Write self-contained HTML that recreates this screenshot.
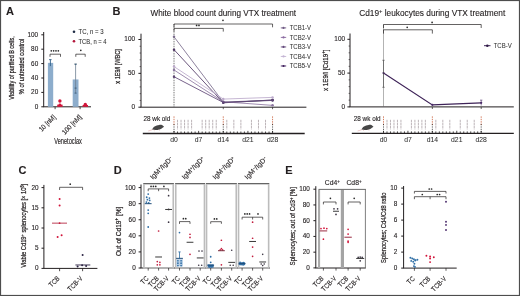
<!DOCTYPE html>
<html><head><meta charset="utf-8"><style>
html,body{margin:0;padding:0;background:#fff;}
svg{display:block;filter:blur(0.3px);}
text{font-family:"Liberation Sans", sans-serif;}
</style></head><body>
<svg width="520" height="296" viewBox="0 0 520 296">
<rect x="0" y="0" width="520" height="296" fill="#fff"/>
<rect x="0.50" y="0.50" width="519.00" height="295.00" fill="none" stroke="#4d4d4d" stroke-width="1.2"/>
<text x="6.00" y="15.30" font-size="11" fill="#231f20" stroke="#231f20" stroke-width="0.12" font-weight="bold" >A</text>
<text x="112.50" y="15.20" font-size="11" fill="#231f20" stroke="#231f20" stroke-width="0.12" font-weight="bold" >B</text>
<text x="18.50" y="174.00" font-size="11" fill="#231f20" stroke="#231f20" stroke-width="0.12" font-weight="bold" >C</text>
<text x="113.80" y="174.30" font-size="11" fill="#231f20" stroke="#231f20" stroke-width="0.12" font-weight="bold" >D</text>
<text x="285.20" y="174.00" font-size="11" fill="#231f20" stroke="#231f20" stroke-width="0.12" font-weight="bold" >E</text>
<line x1="43.70" y1="32.00" x2="43.70" y2="106.80" stroke="#231f20" stroke-width="1.0"/>
<line x1="41.30" y1="106.80" x2="43.70" y2="106.80" stroke="#231f20" stroke-width="1.0"/>
<text x="38.20" y="108.72" font-size="6.4" fill="#231f20" stroke="#231f20" stroke-width="0.12" text-anchor="end" >0</text>
<line x1="41.30" y1="92.40" x2="43.70" y2="92.40" stroke="#231f20" stroke-width="1.0"/>
<text x="38.20" y="94.32" font-size="6.4" fill="#231f20" stroke="#231f20" stroke-width="0.12" text-anchor="end" >20</text>
<line x1="41.30" y1="78.00" x2="43.70" y2="78.00" stroke="#231f20" stroke-width="1.0"/>
<text x="38.20" y="79.92" font-size="6.4" fill="#231f20" stroke="#231f20" stroke-width="0.12" text-anchor="end" >40</text>
<line x1="41.30" y1="63.60" x2="43.70" y2="63.60" stroke="#231f20" stroke-width="1.0"/>
<text x="38.20" y="65.52" font-size="6.4" fill="#231f20" stroke="#231f20" stroke-width="0.12" text-anchor="end" >60</text>
<line x1="41.30" y1="49.20" x2="43.70" y2="49.20" stroke="#231f20" stroke-width="1.0"/>
<text x="38.20" y="51.12" font-size="6.4" fill="#231f20" stroke="#231f20" stroke-width="0.12" text-anchor="end" >80</text>
<line x1="41.30" y1="34.80" x2="43.70" y2="34.80" stroke="#231f20" stroke-width="1.0"/>
<text x="38.20" y="36.72" font-size="6.4" fill="#231f20" stroke="#231f20" stroke-width="0.12" text-anchor="end" >100</text>
<line x1="43.20" y1="106.80" x2="91.00" y2="106.80" stroke="#231f20" stroke-width="1.0"/>
<line x1="55.10" y1="106.80" x2="55.10" y2="109.20" stroke="#231f20" stroke-width="0.8"/>
<line x1="80.10" y1="106.80" x2="80.10" y2="109.20" stroke="#231f20" stroke-width="0.8"/>
<rect x="47.90" y="62.88" width="5.30" height="43.92" fill="#8dadcc"/>
<rect x="72.70" y="79.44" width="5.80" height="27.36" fill="#8dadcc"/>
<rect x="57.20" y="104.64" width="5.40" height="2.16" fill="#d2143a"/>
<rect x="82.60" y="105.00" width="5.40" height="1.80" fill="#d2143a"/>
<line x1="50.40" y1="59.64" x2="50.40" y2="66.12" stroke="#2f5f88" stroke-width="0.9"/>
<line x1="49.10" y1="59.64" x2="51.60" y2="59.64" stroke="#2f5f88" stroke-width="0.9"/>
<line x1="75.60" y1="63.96" x2="75.60" y2="93.12" stroke="#6d7f90" stroke-width="0.8"/>
<line x1="74.40" y1="63.96" x2="76.80" y2="63.96" stroke="#6d7f90" stroke-width="0.8"/>
<line x1="74.60" y1="64.32" x2="76.60" y2="64.32" stroke="#2f5070" stroke-width="0.8"/>
<line x1="74.60" y1="88.08" x2="76.60" y2="88.08" stroke="#2f5070" stroke-width="0.8"/>
<line x1="74.60" y1="93.12" x2="76.60" y2="93.12" stroke="#2f5070" stroke-width="0.8"/>
<circle cx="59.90" cy="101.04" r="1.7" fill="#d2143a"/>
<circle cx="59.90" cy="105.00" r="1.4" fill="#d2143a"/>
<circle cx="85.30" cy="104.50" r="1.7" fill="#d2143a"/>
<circle cx="74.00" cy="31.80" r="1.3" fill="#1d2b44"/>
<text x="78.50" y="34.20" font-size="6.6" fill="#2e2e2e" stroke="#2e2e2e" stroke-width="0.06" textLength="25.0" lengthAdjust="spacingAndGlyphs" >TC, n = 3</text>
<circle cx="74.00" cy="41.20" r="1.3" fill="#b3173b"/>
<text x="78.50" y="43.60" font-size="6.6" fill="#2e2e2e" stroke="#2e2e2e" stroke-width="0.06" textLength="28.0" lengthAdjust="spacingAndGlyphs" >TCB, n = 4</text>
<circle cx="51.27" cy="50.80" r="0.85" fill="#2a2a2a"/>
<circle cx="53.62" cy="50.80" r="0.85" fill="#2a2a2a"/>
<circle cx="55.98" cy="50.80" r="0.85" fill="#2a2a2a"/>
<circle cx="58.33" cy="50.80" r="0.85" fill="#2a2a2a"/>
<polyline points="50.00,56.80 50.00,54.20 60.50,54.20 60.50,56.80" fill="none" stroke="#231f20" stroke-width="0.7" stroke-linejoin="miter"/>
<circle cx="80.80" cy="50.30" r="0.85" fill="#2a2a2a"/>
<polyline points="75.80,56.80 75.80,54.20 85.20,54.20 85.20,56.80" fill="none" stroke="#231f20" stroke-width="0.7" stroke-linejoin="miter"/>
<text transform="translate(13.60,67.90) rotate(-90)" font-size="7.8" fill="#231f20" stroke="#231f20" stroke-width="0.25" text-anchor="middle" textLength="63.5" lengthAdjust="spacingAndGlyphs" >Viability of purified B cells,</text>
<text transform="translate(23.60,66.40) rotate(-90)" font-size="7.8" fill="#231f20" stroke="#231f20" stroke-width="0.25" text-anchor="middle" textLength="55.5" lengthAdjust="spacingAndGlyphs" >% of untreated control</text>
<text transform="translate(56.20,117.60) rotate(-45)" font-size="7.0" fill="#231f20" stroke="#231f20" stroke-width="0.12" text-anchor="end" textLength="20.5" lengthAdjust="spacingAndGlyphs" >10 [nM]</text>
<text transform="translate(82.10,117.60) rotate(-45)" font-size="7.0" fill="#231f20" stroke="#231f20" stroke-width="0.12" text-anchor="end" textLength="24.6" lengthAdjust="spacingAndGlyphs" >100 [nM]</text>
<text x="68.05" y="143.60" font-size="8.2" fill="#231f20" text-anchor="middle" textLength="27.6" lengthAdjust="spacingAndGlyphs" stroke="#231f20" stroke-width="0.15">Venetoclax</text>
<text x="150.50" y="16.30" font-size="8.6" fill="#231f20" stroke="#231f20" stroke-width="0.12" textLength="145.5" lengthAdjust="spacingAndGlyphs" >White blood count during VTX treatment</text>
<line x1="141.00" y1="33.70" x2="141.00" y2="107.20" stroke="#231f20" stroke-width="1.0"/>
<line x1="138.40" y1="107.20" x2="141.00" y2="107.20" stroke="#231f20" stroke-width="1.0"/>
<text x="135.00" y="109.12" font-size="6.4" fill="#231f20" stroke="#231f20" stroke-width="0.12" text-anchor="end" >0</text>
<line x1="138.40" y1="73.35" x2="141.00" y2="73.35" stroke="#231f20" stroke-width="1.0"/>
<text x="135.00" y="75.27" font-size="6.4" fill="#231f20" stroke="#231f20" stroke-width="0.12" text-anchor="end" >50</text>
<line x1="138.40" y1="39.50" x2="141.00" y2="39.50" stroke="#231f20" stroke-width="1.0"/>
<text x="135.00" y="41.42" font-size="6.4" fill="#231f20" stroke="#231f20" stroke-width="0.12" text-anchor="end" >100</text>
<line x1="139.60" y1="100.43" x2="141.00" y2="100.43" stroke="#231f20" stroke-width="0.6"/>
<line x1="139.60" y1="93.66" x2="141.00" y2="93.66" stroke="#231f20" stroke-width="0.6"/>
<line x1="139.60" y1="86.89" x2="141.00" y2="86.89" stroke="#231f20" stroke-width="0.6"/>
<line x1="139.60" y1="80.12" x2="141.00" y2="80.12" stroke="#231f20" stroke-width="0.6"/>
<line x1="139.60" y1="66.58" x2="141.00" y2="66.58" stroke="#231f20" stroke-width="0.6"/>
<line x1="139.60" y1="59.81" x2="141.00" y2="59.81" stroke="#231f20" stroke-width="0.6"/>
<line x1="139.60" y1="53.04" x2="141.00" y2="53.04" stroke="#231f20" stroke-width="0.6"/>
<line x1="139.60" y1="46.27" x2="141.00" y2="46.27" stroke="#231f20" stroke-width="0.6"/>
<text transform="translate(120.00,66.40) rotate(-90)" font-size="6.9" fill="#231f20" stroke="#231f20" stroke-width="0.22" text-anchor="middle" textLength="34.5" lengthAdjust="spacingAndGlyphs" >x 1E9/l [WBC]</text>
<line x1="140.60" y1="107.20" x2="306.40" y2="107.20" stroke="#231f20" stroke-width="1.0"/>
<line x1="174.00" y1="24.00" x2="174.00" y2="107.00" stroke="#2a2a2a" stroke-width="0.8" stroke-dasharray="0.8,0.9"/>
<line x1="223.28" y1="107.20" x2="223.28" y2="109.20" stroke="#231f20" stroke-width="0.7"/>
<line x1="272.56" y1="107.20" x2="272.56" y2="109.20" stroke="#231f20" stroke-width="0.7"/>
<polyline points="174.00,36.79 223.28,102.12 272.56,100.09" fill="none" stroke="#7a6c8c" stroke-width="0.85" stroke-linejoin="miter"/>
<circle cx="174.00" cy="36.79" r="1.25" fill="#7a6c8c"/>
<circle cx="223.28" cy="102.12" r="1.25" fill="#7a6c8c"/>
<circle cx="272.56" cy="100.09" r="1.25" fill="#7a6c8c"/>
<polyline points="174.00,49.66 223.28,102.80 272.56,100.02" fill="none" stroke="#4f3664" stroke-width="0.85" stroke-linejoin="miter"/>
<circle cx="174.00" cy="49.66" r="1.25" fill="#4f3664"/>
<circle cx="223.28" cy="102.80" r="1.25" fill="#4f3664"/>
<circle cx="272.56" cy="100.02" r="1.25" fill="#4f3664"/>
<polyline points="174.00,66.58 223.28,99.08 272.56,97.38" fill="none" stroke="#bcaacb" stroke-width="0.85" stroke-linejoin="miter"/>
<circle cx="174.00" cy="66.58" r="1.25" fill="#bcaacb"/>
<circle cx="223.28" cy="99.08" r="1.25" fill="#bcaacb"/>
<circle cx="272.56" cy="97.38" r="1.25" fill="#bcaacb"/>
<polyline points="174.00,69.97 223.28,101.78 272.56,105.37" fill="none" stroke="#8c76a0" stroke-width="0.85" stroke-linejoin="miter"/>
<circle cx="174.00" cy="69.97" r="1.25" fill="#8c76a0"/>
<circle cx="223.28" cy="101.78" r="1.25" fill="#8c76a0"/>
<circle cx="272.56" cy="105.37" r="1.25" fill="#8c76a0"/>
<polyline points="174.00,76.73 223.28,102.46 272.56,100.43" fill="none" stroke="#5e4676" stroke-width="0.85" stroke-linejoin="miter"/>
<circle cx="174.00" cy="76.73" r="1.25" fill="#5e4676"/>
<circle cx="223.28" cy="102.46" r="1.25" fill="#5e4676"/>
<circle cx="272.56" cy="100.43" r="1.25" fill="#5e4676"/>
<polyline points="174.00,27.30 174.00,24.00 272.56,24.00 272.56,27.30" fill="none" stroke="#231f20" stroke-width="0.7" stroke-linejoin="miter"/>
<circle cx="222.98" cy="20.30" r="0.85" fill="#2a2a2a"/>
<polyline points="174.00,31.60 174.00,28.40 223.28,28.40 223.28,31.60" fill="none" stroke="#231f20" stroke-width="0.7" stroke-linejoin="miter"/>
<circle cx="196.62" cy="25.40" r="0.85" fill="#2a2a2a"/>
<circle cx="198.97" cy="25.40" r="0.85" fill="#2a2a2a"/>
<line x1="280.80" y1="27.90" x2="286.20" y2="27.90" stroke="#6f5a84" stroke-width="0.9"/>
<circle cx="283.50" cy="27.90" r="1.1" fill="#6f5a84"/>
<text x="289.70" y="30.20" font-size="6.6" fill="#2e2e2e" stroke="#2e2e2e" stroke-width="0.04" textLength="21.4" lengthAdjust="spacingAndGlyphs" >TCB1-V</text>
<line x1="280.80" y1="37.42" x2="286.20" y2="37.42" stroke="#8a6aa0" stroke-width="0.9"/>
<circle cx="283.50" cy="37.42" r="1.1" fill="#8a6aa0"/>
<text x="289.70" y="39.72" font-size="6.6" fill="#2e2e2e" stroke="#2e2e2e" stroke-width="0.04" textLength="21.4" lengthAdjust="spacingAndGlyphs" >TCB2-V</text>
<line x1="280.80" y1="46.94" x2="286.20" y2="46.94" stroke="#634a7c" stroke-width="0.9"/>
<circle cx="283.50" cy="46.94" r="1.1" fill="#634a7c"/>
<text x="289.70" y="49.24" font-size="6.6" fill="#2e2e2e" stroke="#2e2e2e" stroke-width="0.04" textLength="21.4" lengthAdjust="spacingAndGlyphs" >TCB3-V</text>
<line x1="280.80" y1="56.46" x2="286.20" y2="56.46" stroke="#c4b4d4" stroke-width="0.9"/>
<circle cx="283.50" cy="56.46" r="1.1" fill="#c4b4d4"/>
<text x="289.70" y="58.76" font-size="6.6" fill="#2e2e2e" stroke="#2e2e2e" stroke-width="0.04" textLength="21.4" lengthAdjust="spacingAndGlyphs" >TCB4-V</text>
<line x1="280.80" y1="65.98" x2="286.20" y2="65.98" stroke="#3f1f5c" stroke-width="0.9"/>
<circle cx="283.50" cy="65.98" r="1.1" fill="#3f1f5c"/>
<text x="289.70" y="68.28" font-size="6.6" fill="#2e2e2e" stroke="#2e2e2e" stroke-width="0.04" textLength="21.4" lengthAdjust="spacingAndGlyphs" >TCB5-V</text>
<text x="359.20" y="16.30" font-size="8.6" fill="#231f20" stroke="#231f20" stroke-width="0.12" textLength="146.0" lengthAdjust="spacingAndGlyphs" >Cd19<tspan font-size="6" dy="-3.2">+</tspan><tspan dy="3.2"> leukocytes during VTX treatment</tspan></text>
<line x1="350.00" y1="33.50" x2="350.00" y2="106.90" stroke="#231f20" stroke-width="1.0"/>
<line x1="347.40" y1="106.90" x2="350.00" y2="106.90" stroke="#231f20" stroke-width="1.0"/>
<text x="345.00" y="108.82" font-size="6.4" fill="#231f20" stroke="#231f20" stroke-width="0.12" text-anchor="end" >0</text>
<line x1="347.40" y1="73.10" x2="350.00" y2="73.10" stroke="#231f20" stroke-width="1.0"/>
<text x="345.00" y="75.02" font-size="6.4" fill="#231f20" stroke="#231f20" stroke-width="0.12" text-anchor="end" >50</text>
<line x1="347.40" y1="39.30" x2="350.00" y2="39.30" stroke="#231f20" stroke-width="1.0"/>
<text x="345.00" y="41.22" font-size="6.4" fill="#231f20" stroke="#231f20" stroke-width="0.12" text-anchor="end" >100</text>
<line x1="348.60" y1="100.14" x2="350.00" y2="100.14" stroke="#231f20" stroke-width="0.6"/>
<line x1="348.60" y1="93.38" x2="350.00" y2="93.38" stroke="#231f20" stroke-width="0.6"/>
<line x1="348.60" y1="86.62" x2="350.00" y2="86.62" stroke="#231f20" stroke-width="0.6"/>
<line x1="348.60" y1="79.86" x2="350.00" y2="79.86" stroke="#231f20" stroke-width="0.6"/>
<line x1="348.60" y1="66.34" x2="350.00" y2="66.34" stroke="#231f20" stroke-width="0.6"/>
<line x1="348.60" y1="59.58" x2="350.00" y2="59.58" stroke="#231f20" stroke-width="0.6"/>
<line x1="348.60" y1="52.82" x2="350.00" y2="52.82" stroke="#231f20" stroke-width="0.6"/>
<line x1="348.60" y1="46.06" x2="350.00" y2="46.06" stroke="#231f20" stroke-width="0.6"/>
<text transform="translate(327.80,70.20) rotate(-90)" font-size="6.9" fill="#231f20" stroke="#231f20" stroke-width="0.22" text-anchor="middle" textLength="41.5" lengthAdjust="spacingAndGlyphs" >x 1E9/l [Cd19<tspan font-size="5" dy="-2.4">+</tspan><tspan dy="2.4">]</tspan></text>
<line x1="349.60" y1="106.90" x2="513.80" y2="106.90" stroke="#231f20" stroke-width="1.0"/>
<line x1="383.50" y1="24.50" x2="383.50" y2="107.00" stroke="#666" stroke-width="0.5"/>
<line x1="432.35" y1="106.90" x2="432.35" y2="109.00" stroke="#231f20" stroke-width="0.7"/>
<line x1="481.20" y1="106.90" x2="481.20" y2="109.00" stroke="#231f20" stroke-width="0.7"/>
<polyline points="383.50,73.10 432.35,104.87 481.20,102.84" fill="none" stroke="#3e2358" stroke-width="1.15" stroke-linejoin="miter"/>
<circle cx="383.50" cy="73.10" r="1.1" fill="#4a2a68"/>
<circle cx="432.35" cy="104.87" r="1.1" fill="#4a2a68"/>
<circle cx="481.20" cy="102.84" r="1.1" fill="#4a2a68"/>
<line x1="383.50" y1="60.26" x2="383.50" y2="87.30" stroke="#444" stroke-width="0.6"/>
<line x1="382.30" y1="60.26" x2="384.70" y2="60.26" stroke="#444" stroke-width="0.6"/>
<line x1="382.30" y1="87.30" x2="384.70" y2="87.30" stroke="#444" stroke-width="0.6"/>
<line x1="481.20" y1="100.14" x2="481.20" y2="105.55" stroke="#4a2a68" stroke-width="0.6"/>
<line x1="480.00" y1="100.14" x2="482.40" y2="100.14" stroke="#4a2a68" stroke-width="0.6"/>
<polyline points="383.50,28.00 383.50,24.50 481.20,24.50 481.20,28.00" fill="none" stroke="#231f20" stroke-width="0.7" stroke-linejoin="miter"/>
<circle cx="432.10" cy="22.40" r="0.85" fill="#2a2a2a"/>
<polyline points="383.50,33.60 383.50,29.80 432.35,29.80 432.35,33.60" fill="none" stroke="#231f20" stroke-width="0.7" stroke-linejoin="miter"/>
<circle cx="407.20" cy="27.30" r="0.85" fill="#2a2a2a"/>
<line x1="484.00" y1="45.70" x2="490.50" y2="45.70" stroke="#3e2358" stroke-width="1.0"/>
<circle cx="487.30" cy="45.70" r="1.25" fill="#2e1a45"/>
<text x="493.70" y="48.00" font-size="6.6" fill="#2e2e2e" stroke="#2e2e2e" stroke-width="0.04" textLength="18.0" lengthAdjust="spacingAndGlyphs" >TCB-V</text>
<text x="143.50" y="121.20" font-size="6.8" fill="#231f20" stroke="#231f20" stroke-width="0.12" textLength="26.8" lengthAdjust="spacingAndGlyphs" >28 wk old</text>
<path d="M148.20,131.0 Q150.20,130.6 152.80,129.4" fill="none" stroke="#e6b4b4" stroke-width="0.7"/>
<path d="M152.20,129.6 C152.80,127.0 155.80,125.1 159.20,124.9 C160.60,124.8 161.60,124.9 162.40,125.3 L164.10,126.7 L162.60,127.7 C160.70,129.6 156.20,130.7 152.20,129.6 Z" fill="#474747"/>
<path d="M153.70,130.1 L154.70,131.0 M158.70,129.6 L159.70,130.6" stroke="#e6b4b4" stroke-width="0.6"/>
<line x1="142.80" y1="133.50" x2="304.70" y2="133.50" stroke="#231f20" stroke-width="1.4"/>
<line x1="174.00" y1="130.90" x2="174.00" y2="133.50" stroke="#231f20" stroke-width="0.8"/>
<line x1="177.52" y1="131.50" x2="177.52" y2="133.50" stroke="#231f20" stroke-width="0.8"/>
<line x1="181.04" y1="131.50" x2="181.04" y2="133.50" stroke="#231f20" stroke-width="0.8"/>
<line x1="184.56" y1="131.50" x2="184.56" y2="133.50" stroke="#231f20" stroke-width="0.8"/>
<line x1="188.08" y1="131.50" x2="188.08" y2="133.50" stroke="#231f20" stroke-width="0.8"/>
<line x1="191.60" y1="131.50" x2="191.60" y2="133.50" stroke="#231f20" stroke-width="0.8"/>
<line x1="195.12" y1="131.50" x2="195.12" y2="133.50" stroke="#231f20" stroke-width="0.8"/>
<line x1="198.64" y1="130.90" x2="198.64" y2="133.50" stroke="#231f20" stroke-width="0.8"/>
<line x1="202.16" y1="131.50" x2="202.16" y2="133.50" stroke="#231f20" stroke-width="0.8"/>
<line x1="205.68" y1="131.50" x2="205.68" y2="133.50" stroke="#231f20" stroke-width="0.8"/>
<line x1="209.20" y1="131.50" x2="209.20" y2="133.50" stroke="#231f20" stroke-width="0.8"/>
<line x1="212.72" y1="131.50" x2="212.72" y2="133.50" stroke="#231f20" stroke-width="0.8"/>
<line x1="216.24" y1="131.50" x2="216.24" y2="133.50" stroke="#231f20" stroke-width="0.8"/>
<line x1="219.76" y1="131.50" x2="219.76" y2="133.50" stroke="#231f20" stroke-width="0.8"/>
<line x1="223.28" y1="130.90" x2="223.28" y2="133.50" stroke="#231f20" stroke-width="0.8"/>
<line x1="226.80" y1="131.50" x2="226.80" y2="133.50" stroke="#231f20" stroke-width="0.8"/>
<line x1="230.32" y1="131.50" x2="230.32" y2="133.50" stroke="#231f20" stroke-width="0.8"/>
<line x1="233.84" y1="131.50" x2="233.84" y2="133.50" stroke="#231f20" stroke-width="0.8"/>
<line x1="237.36" y1="131.50" x2="237.36" y2="133.50" stroke="#231f20" stroke-width="0.8"/>
<line x1="240.88" y1="131.50" x2="240.88" y2="133.50" stroke="#231f20" stroke-width="0.8"/>
<line x1="244.40" y1="131.50" x2="244.40" y2="133.50" stroke="#231f20" stroke-width="0.8"/>
<line x1="247.92" y1="130.90" x2="247.92" y2="133.50" stroke="#231f20" stroke-width="0.8"/>
<line x1="251.44" y1="131.50" x2="251.44" y2="133.50" stroke="#231f20" stroke-width="0.8"/>
<line x1="254.96" y1="131.50" x2="254.96" y2="133.50" stroke="#231f20" stroke-width="0.8"/>
<line x1="258.48" y1="131.50" x2="258.48" y2="133.50" stroke="#231f20" stroke-width="0.8"/>
<line x1="262.00" y1="131.50" x2="262.00" y2="133.50" stroke="#231f20" stroke-width="0.8"/>
<line x1="265.52" y1="131.50" x2="265.52" y2="133.50" stroke="#231f20" stroke-width="0.8"/>
<line x1="269.04" y1="131.50" x2="269.04" y2="133.50" stroke="#231f20" stroke-width="0.8"/>
<line x1="272.56" y1="130.90" x2="272.56" y2="133.50" stroke="#231f20" stroke-width="0.8"/>
<line x1="177.52" y1="119.80" x2="177.52" y2="129.40" stroke="#b9b1b5" stroke-width="0.95" stroke-dasharray="2.4,0.5"/>
<line x1="181.04" y1="119.80" x2="181.04" y2="129.40" stroke="#b9b1b5" stroke-width="0.95" stroke-dasharray="2.4,0.5"/>
<line x1="184.56" y1="119.80" x2="184.56" y2="129.40" stroke="#b9b1b5" stroke-width="0.95" stroke-dasharray="2.4,0.5"/>
<line x1="188.08" y1="119.80" x2="188.08" y2="129.40" stroke="#b9b1b5" stroke-width="0.95" stroke-dasharray="2.4,0.5"/>
<line x1="191.60" y1="119.80" x2="191.60" y2="129.40" stroke="#b9b1b5" stroke-width="0.95" stroke-dasharray="2.4,0.5"/>
<line x1="202.16" y1="119.80" x2="202.16" y2="129.40" stroke="#b9b1b5" stroke-width="0.95" stroke-dasharray="2.4,0.5"/>
<line x1="205.68" y1="119.80" x2="205.68" y2="129.40" stroke="#b9b1b5" stroke-width="0.95" stroke-dasharray="2.4,0.5"/>
<line x1="209.20" y1="119.80" x2="209.20" y2="129.40" stroke="#b9b1b5" stroke-width="0.95" stroke-dasharray="2.4,0.5"/>
<line x1="212.72" y1="119.80" x2="212.72" y2="129.40" stroke="#b9b1b5" stroke-width="0.95" stroke-dasharray="2.4,0.5"/>
<line x1="216.24" y1="119.80" x2="216.24" y2="129.40" stroke="#b9b1b5" stroke-width="0.95" stroke-dasharray="2.4,0.5"/>
<line x1="226.80" y1="119.80" x2="226.80" y2="129.40" stroke="#b9b1b5" stroke-width="0.95" stroke-dasharray="2.4,0.5"/>
<line x1="233.84" y1="119.80" x2="233.84" y2="129.40" stroke="#b9b1b5" stroke-width="0.95" stroke-dasharray="2.4,0.5"/>
<line x1="240.88" y1="119.80" x2="240.88" y2="129.40" stroke="#b9b1b5" stroke-width="0.95" stroke-dasharray="2.4,0.5"/>
<line x1="251.44" y1="119.80" x2="251.44" y2="129.40" stroke="#b9b1b5" stroke-width="0.95" stroke-dasharray="2.4,0.5"/>
<line x1="258.48" y1="119.80" x2="258.48" y2="129.40" stroke="#b9b1b5" stroke-width="0.95" stroke-dasharray="2.4,0.5"/>
<line x1="265.52" y1="119.80" x2="265.52" y2="129.40" stroke="#b9b1b5" stroke-width="0.95" stroke-dasharray="2.4,0.5"/>
<line x1="174.00" y1="116.40" x2="174.00" y2="126.00" stroke="#cf6d4c" stroke-width="0.9" stroke-dasharray="1.4,1.0"/>
<line x1="174.00" y1="124.20" x2="174.00" y2="132.80" stroke="#2a2a2a" stroke-width="0.9" stroke-dasharray="1.0,1.3"/>
<line x1="223.28" y1="116.40" x2="223.28" y2="126.00" stroke="#cf6d4c" stroke-width="0.9" stroke-dasharray="1.4,1.0"/>
<line x1="223.28" y1="124.20" x2="223.28" y2="132.80" stroke="#2a2a2a" stroke-width="0.9" stroke-dasharray="1.0,1.3"/>
<line x1="272.56" y1="116.40" x2="272.56" y2="126.00" stroke="#cf6d4c" stroke-width="0.9" stroke-dasharray="1.4,1.0"/>
<line x1="272.56" y1="124.20" x2="272.56" y2="132.80" stroke="#2a2a2a" stroke-width="0.9" stroke-dasharray="1.0,1.3"/>
<text x="174.00" y="142.30" font-size="6.8" fill="#2e2e2e" stroke="#2e2e2e" stroke-width="0.05" text-anchor="middle" >d0</text>
<text x="198.64" y="142.30" font-size="6.8" fill="#2e2e2e" stroke="#2e2e2e" stroke-width="0.05" text-anchor="middle" >d7</text>
<text x="223.28" y="142.30" font-size="6.8" fill="#2e2e2e" stroke="#2e2e2e" stroke-width="0.05" text-anchor="middle" >d14</text>
<text x="247.92" y="142.30" font-size="6.8" fill="#2e2e2e" stroke="#2e2e2e" stroke-width="0.05" text-anchor="middle" >d21</text>
<text x="272.56" y="142.30" font-size="6.8" fill="#2e2e2e" stroke="#2e2e2e" stroke-width="0.05" text-anchor="middle" >d28</text>
<text x="353.80" y="121.20" font-size="6.8" fill="#231f20" stroke="#231f20" stroke-width="0.12" textLength="26.8" lengthAdjust="spacingAndGlyphs" >28 wk old</text>
<path d="M357.60,131.0 Q359.60,130.6 362.20,129.4" fill="none" stroke="#e6b4b4" stroke-width="0.7"/>
<path d="M361.60,129.6 C362.20,127.0 365.20,125.1 368.60,124.9 C370.00,124.8 371.00,124.9 371.80,125.3 L373.50,126.7 L372.00,127.7 C370.10,129.6 365.60,130.7 361.60,129.6 Z" fill="#474747"/>
<path d="M363.10,130.1 L364.10,131.0 M368.10,129.6 L369.10,130.6" stroke="#e6b4b4" stroke-width="0.6"/>
<line x1="351.80" y1="133.40" x2="513.80" y2="133.40" stroke="#231f20" stroke-width="1.4"/>
<line x1="383.50" y1="130.80" x2="383.50" y2="133.40" stroke="#231f20" stroke-width="0.8"/>
<line x1="386.99" y1="131.40" x2="386.99" y2="133.40" stroke="#231f20" stroke-width="0.8"/>
<line x1="390.48" y1="131.40" x2="390.48" y2="133.40" stroke="#231f20" stroke-width="0.8"/>
<line x1="393.97" y1="131.40" x2="393.97" y2="133.40" stroke="#231f20" stroke-width="0.8"/>
<line x1="397.46" y1="131.40" x2="397.46" y2="133.40" stroke="#231f20" stroke-width="0.8"/>
<line x1="400.95" y1="131.40" x2="400.95" y2="133.40" stroke="#231f20" stroke-width="0.8"/>
<line x1="404.44" y1="131.40" x2="404.44" y2="133.40" stroke="#231f20" stroke-width="0.8"/>
<line x1="407.93" y1="130.80" x2="407.93" y2="133.40" stroke="#231f20" stroke-width="0.8"/>
<line x1="411.41" y1="131.40" x2="411.41" y2="133.40" stroke="#231f20" stroke-width="0.8"/>
<line x1="414.90" y1="131.40" x2="414.90" y2="133.40" stroke="#231f20" stroke-width="0.8"/>
<line x1="418.39" y1="131.40" x2="418.39" y2="133.40" stroke="#231f20" stroke-width="0.8"/>
<line x1="421.88" y1="131.40" x2="421.88" y2="133.40" stroke="#231f20" stroke-width="0.8"/>
<line x1="425.37" y1="131.40" x2="425.37" y2="133.40" stroke="#231f20" stroke-width="0.8"/>
<line x1="428.86" y1="131.40" x2="428.86" y2="133.40" stroke="#231f20" stroke-width="0.8"/>
<line x1="432.35" y1="130.80" x2="432.35" y2="133.40" stroke="#231f20" stroke-width="0.8"/>
<line x1="435.84" y1="131.40" x2="435.84" y2="133.40" stroke="#231f20" stroke-width="0.8"/>
<line x1="439.33" y1="131.40" x2="439.33" y2="133.40" stroke="#231f20" stroke-width="0.8"/>
<line x1="442.82" y1="131.40" x2="442.82" y2="133.40" stroke="#231f20" stroke-width="0.8"/>
<line x1="446.31" y1="131.40" x2="446.31" y2="133.40" stroke="#231f20" stroke-width="0.8"/>
<line x1="449.80" y1="131.40" x2="449.80" y2="133.40" stroke="#231f20" stroke-width="0.8"/>
<line x1="453.29" y1="131.40" x2="453.29" y2="133.40" stroke="#231f20" stroke-width="0.8"/>
<line x1="456.77" y1="130.80" x2="456.77" y2="133.40" stroke="#231f20" stroke-width="0.8"/>
<line x1="460.26" y1="131.40" x2="460.26" y2="133.40" stroke="#231f20" stroke-width="0.8"/>
<line x1="463.75" y1="131.40" x2="463.75" y2="133.40" stroke="#231f20" stroke-width="0.8"/>
<line x1="467.24" y1="131.40" x2="467.24" y2="133.40" stroke="#231f20" stroke-width="0.8"/>
<line x1="470.73" y1="131.40" x2="470.73" y2="133.40" stroke="#231f20" stroke-width="0.8"/>
<line x1="474.22" y1="131.40" x2="474.22" y2="133.40" stroke="#231f20" stroke-width="0.8"/>
<line x1="477.71" y1="131.40" x2="477.71" y2="133.40" stroke="#231f20" stroke-width="0.8"/>
<line x1="481.20" y1="130.80" x2="481.20" y2="133.40" stroke="#231f20" stroke-width="0.8"/>
<line x1="386.99" y1="119.80" x2="386.99" y2="129.40" stroke="#b9b1b5" stroke-width="0.95" stroke-dasharray="2.4,0.5"/>
<line x1="390.48" y1="119.80" x2="390.48" y2="129.40" stroke="#b9b1b5" stroke-width="0.95" stroke-dasharray="2.4,0.5"/>
<line x1="393.97" y1="119.80" x2="393.97" y2="129.40" stroke="#b9b1b5" stroke-width="0.95" stroke-dasharray="2.4,0.5"/>
<line x1="397.46" y1="119.80" x2="397.46" y2="129.40" stroke="#b9b1b5" stroke-width="0.95" stroke-dasharray="2.4,0.5"/>
<line x1="400.95" y1="119.80" x2="400.95" y2="129.40" stroke="#b9b1b5" stroke-width="0.95" stroke-dasharray="2.4,0.5"/>
<line x1="411.41" y1="119.80" x2="411.41" y2="129.40" stroke="#b9b1b5" stroke-width="0.95" stroke-dasharray="2.4,0.5"/>
<line x1="414.90" y1="119.80" x2="414.90" y2="129.40" stroke="#b9b1b5" stroke-width="0.95" stroke-dasharray="2.4,0.5"/>
<line x1="418.39" y1="119.80" x2="418.39" y2="129.40" stroke="#b9b1b5" stroke-width="0.95" stroke-dasharray="2.4,0.5"/>
<line x1="421.88" y1="119.80" x2="421.88" y2="129.40" stroke="#b9b1b5" stroke-width="0.95" stroke-dasharray="2.4,0.5"/>
<line x1="425.37" y1="119.80" x2="425.37" y2="129.40" stroke="#b9b1b5" stroke-width="0.95" stroke-dasharray="2.4,0.5"/>
<line x1="435.84" y1="119.80" x2="435.84" y2="129.40" stroke="#b9b1b5" stroke-width="0.95" stroke-dasharray="2.4,0.5"/>
<line x1="442.82" y1="119.80" x2="442.82" y2="129.40" stroke="#b9b1b5" stroke-width="0.95" stroke-dasharray="2.4,0.5"/>
<line x1="449.80" y1="119.80" x2="449.80" y2="129.40" stroke="#b9b1b5" stroke-width="0.95" stroke-dasharray="2.4,0.5"/>
<line x1="460.26" y1="119.80" x2="460.26" y2="129.40" stroke="#b9b1b5" stroke-width="0.95" stroke-dasharray="2.4,0.5"/>
<line x1="467.24" y1="119.80" x2="467.24" y2="129.40" stroke="#b9b1b5" stroke-width="0.95" stroke-dasharray="2.4,0.5"/>
<line x1="474.22" y1="119.80" x2="474.22" y2="129.40" stroke="#b9b1b5" stroke-width="0.95" stroke-dasharray="2.4,0.5"/>
<line x1="383.50" y1="116.40" x2="383.50" y2="126.00" stroke="#cf6d4c" stroke-width="0.9" stroke-dasharray="1.4,1.0"/>
<line x1="383.50" y1="124.20" x2="383.50" y2="132.80" stroke="#2a2a2a" stroke-width="0.9" stroke-dasharray="1.0,1.3"/>
<line x1="432.35" y1="116.40" x2="432.35" y2="126.00" stroke="#cf6d4c" stroke-width="0.9" stroke-dasharray="1.4,1.0"/>
<line x1="432.35" y1="124.20" x2="432.35" y2="132.80" stroke="#2a2a2a" stroke-width="0.9" stroke-dasharray="1.0,1.3"/>
<line x1="481.20" y1="116.40" x2="481.20" y2="126.00" stroke="#cf6d4c" stroke-width="0.9" stroke-dasharray="1.4,1.0"/>
<line x1="481.20" y1="124.20" x2="481.20" y2="132.80" stroke="#2a2a2a" stroke-width="0.9" stroke-dasharray="1.0,1.3"/>
<text x="383.50" y="142.30" font-size="6.8" fill="#2e2e2e" stroke="#2e2e2e" stroke-width="0.05" text-anchor="middle" >d0</text>
<text x="407.93" y="142.30" font-size="6.8" fill="#2e2e2e" stroke="#2e2e2e" stroke-width="0.05" text-anchor="middle" >d7</text>
<text x="432.35" y="142.30" font-size="6.8" fill="#2e2e2e" stroke="#2e2e2e" stroke-width="0.05" text-anchor="middle" >d14</text>
<text x="456.77" y="142.30" font-size="6.8" fill="#2e2e2e" stroke="#2e2e2e" stroke-width="0.05" text-anchor="middle" >d21</text>
<text x="481.20" y="142.30" font-size="6.8" fill="#2e2e2e" stroke="#2e2e2e" stroke-width="0.05" text-anchor="middle" >d28</text>
<line x1="43.90" y1="184.90" x2="43.90" y2="268.40" stroke="#231f20" stroke-width="1.0"/>
<line x1="41.50" y1="268.40" x2="43.90" y2="268.40" stroke="#231f20" stroke-width="1.0"/>
<text x="38.60" y="270.32" font-size="6.4" fill="#231f20" stroke="#231f20" stroke-width="0.12" text-anchor="end" >0</text>
<line x1="41.50" y1="248.20" x2="43.90" y2="248.20" stroke="#231f20" stroke-width="1.0"/>
<text x="38.60" y="250.12" font-size="6.4" fill="#231f20" stroke="#231f20" stroke-width="0.12" text-anchor="end" >5</text>
<line x1="41.50" y1="228.00" x2="43.90" y2="228.00" stroke="#231f20" stroke-width="1.0"/>
<text x="38.60" y="229.92" font-size="6.4" fill="#231f20" stroke="#231f20" stroke-width="0.12" text-anchor="end" >10</text>
<line x1="41.50" y1="207.80" x2="43.90" y2="207.80" stroke="#231f20" stroke-width="1.0"/>
<text x="38.60" y="209.72" font-size="6.4" fill="#231f20" stroke="#231f20" stroke-width="0.12" text-anchor="end" >15</text>
<line x1="41.50" y1="187.60" x2="43.90" y2="187.60" stroke="#231f20" stroke-width="1.0"/>
<text x="38.60" y="189.52" font-size="6.4" fill="#231f20" stroke="#231f20" stroke-width="0.12" text-anchor="end" >20</text>
<line x1="43.50" y1="268.40" x2="97.40" y2="268.40" stroke="#231f20" stroke-width="1.0"/>
<line x1="59.60" y1="268.40" x2="59.60" y2="271.20" stroke="#231f20" stroke-width="0.8"/>
<line x1="82.60" y1="268.40" x2="82.60" y2="271.20" stroke="#231f20" stroke-width="0.8"/>
<text transform="translate(25.80,225.80) rotate(-90)" font-size="7.0" fill="#231f20" stroke="#231f20" stroke-width="0.22" text-anchor="middle" textLength="84.0" lengthAdjust="spacingAndGlyphs" >Viable Cd19<tspan font-size="4.6" dy="-2.3">+</tspan><tspan dy="2.3"> splenocytes [× 10</tspan><tspan font-size="4.6" dy="-2.3">6</tspan><tspan dy="2.3">]</tspan></text>
<circle cx="59.60" cy="198.91" r="1.0" fill="#d2143a"/>
<circle cx="59.60" cy="205.38" r="1.0" fill="#d2143a"/>
<circle cx="57.60" cy="236.89" r="1.0" fill="#d2143a"/>
<circle cx="61.60" cy="235.27" r="1.0" fill="#d2143a"/>
<circle cx="59.60" cy="223.15" r="0.9" fill="#d2143a"/>
<line x1="52.00" y1="223.15" x2="67.00" y2="223.15" stroke="#b52a44" stroke-width="0.9"/>
<circle cx="82.60" cy="255.07" r="1.0" fill="#2c2444"/>
<circle cx="77.60" cy="266.38" r="1.0" fill="#2c2444"/>
<circle cx="82.10" cy="265.17" r="1.0" fill="#2c2444"/>
<circle cx="86.10" cy="265.98" r="1.0" fill="#2c2444"/>
<line x1="75.40" y1="264.97" x2="90.30" y2="264.97" stroke="#2c2444" stroke-width="0.9"/>
<polyline points="59.60,190.00 59.60,187.30 82.60,187.30 82.60,190.00" fill="none" stroke="#231f20" stroke-width="0.7" stroke-linejoin="miter"/>
<circle cx="70.20" cy="184.20" r="0.85" fill="#2a2a2a"/>
<text transform="translate(60.10,279.00) rotate(-45)" font-size="7.0" fill="#231f20" stroke="#231f20" stroke-width="0.12" text-anchor="end" textLength="12.04" lengthAdjust="spacingAndGlyphs" >TCB</text>
<text transform="translate(83.10,279.00) rotate(-45)" font-size="7.0" fill="#231f20" stroke="#231f20" stroke-width="0.12" text-anchor="end" textLength="18.06" lengthAdjust="spacingAndGlyphs" >TCB-V</text>
<line x1="141.00" y1="184.50" x2="141.00" y2="268.00" stroke="#231f20" stroke-width="1.0"/>
<line x1="138.60" y1="268.00" x2="141.00" y2="268.00" stroke="#231f20" stroke-width="1.0"/>
<text x="135.70" y="269.92" font-size="6.4" fill="#231f20" stroke="#231f20" stroke-width="0.12" text-anchor="end" >0</text>
<line x1="138.60" y1="251.92" x2="141.00" y2="251.92" stroke="#231f20" stroke-width="1.0"/>
<text x="135.70" y="253.84" font-size="6.4" fill="#231f20" stroke="#231f20" stroke-width="0.12" text-anchor="end" >20</text>
<line x1="138.60" y1="235.84" x2="141.00" y2="235.84" stroke="#231f20" stroke-width="1.0"/>
<text x="135.70" y="237.76" font-size="6.4" fill="#231f20" stroke="#231f20" stroke-width="0.12" text-anchor="end" >40</text>
<line x1="138.60" y1="219.76" x2="141.00" y2="219.76" stroke="#231f20" stroke-width="1.0"/>
<text x="135.70" y="221.68" font-size="6.4" fill="#231f20" stroke="#231f20" stroke-width="0.12" text-anchor="end" >60</text>
<line x1="138.60" y1="203.68" x2="141.00" y2="203.68" stroke="#231f20" stroke-width="1.0"/>
<text x="135.70" y="205.60" font-size="6.4" fill="#231f20" stroke="#231f20" stroke-width="0.12" text-anchor="end" >80</text>
<line x1="138.60" y1="187.60" x2="141.00" y2="187.60" stroke="#231f20" stroke-width="1.0"/>
<text x="135.70" y="189.52" font-size="6.4" fill="#231f20" stroke="#231f20" stroke-width="0.12" text-anchor="end" >100</text>
<line x1="140.70" y1="268.00" x2="270.00" y2="268.00" stroke="#231f20" stroke-width="1.0"/>
<text transform="translate(120.60,231.30) rotate(-90)" font-size="7.0" fill="#231f20" stroke="#231f20" stroke-width="0.22" text-anchor="middle" textLength="49.5" lengthAdjust="spacingAndGlyphs" >Out of Cd19<tspan font-size="4.6" dy="-2.3">+</tspan><tspan dy="2.3"> [%]</tspan></text>
<rect x="143.95" y="183.90" width="29.30" height="84.10" fill="none" stroke="#bcbcbc" stroke-width="1.6"/>
<line x1="143.40" y1="183.50" x2="173.80" y2="183.50" stroke="#5a5a5a" stroke-width="0.9"/>
<text transform="translate(152.70,179.80) rotate(-45)" font-size="6.9" fill="#231f20" stroke="#231f20" stroke-width="0.12" >IgM<tspan font-size="4" dy="-2">+</tspan><tspan dy="2">/IgD</tspan><tspan font-size="4" dy="-2">−</tspan></text>
<rect x="175.75" y="183.90" width="28.70" height="84.10" fill="none" stroke="#bcbcbc" stroke-width="1.6"/>
<line x1="175.20" y1="183.50" x2="205.00" y2="183.50" stroke="#5a5a5a" stroke-width="0.9"/>
<text transform="translate(184.50,179.80) rotate(-45)" font-size="6.9" fill="#231f20" stroke="#231f20" stroke-width="0.12" >IgM<tspan font-size="4" dy="-2">+</tspan><tspan dy="2">/IgD</tspan><tspan font-size="4" dy="-2">+</tspan></text>
<rect x="206.55" y="183.90" width="29.70" height="84.10" fill="none" stroke="#bcbcbc" stroke-width="1.6"/>
<line x1="206.00" y1="183.50" x2="236.80" y2="183.50" stroke="#5a5a5a" stroke-width="0.9"/>
<text transform="translate(215.30,179.80) rotate(-45)" font-size="6.9" fill="#231f20" stroke="#231f20" stroke-width="0.12" >IgM<tspan font-size="4" dy="-2">−</tspan><tspan dy="2">/IgD</tspan><tspan font-size="4" dy="-2">+</tspan></text>
<rect x="238.55" y="183.90" width="30.10" height="84.10" fill="none" stroke="#bcbcbc" stroke-width="1.6"/>
<line x1="238.00" y1="183.50" x2="269.20" y2="183.50" stroke="#5a5a5a" stroke-width="0.9"/>
<text transform="translate(247.30,179.80) rotate(-45)" font-size="6.9" fill="#231f20" stroke="#231f20" stroke-width="0.12" >IgM<tspan font-size="4" dy="-2">−</tspan><tspan dy="2">/IgD</tspan><tspan font-size="4" dy="-2">−</tspan></text>
<line x1="148.20" y1="268.00" x2="148.20" y2="270.60" stroke="#231f20" stroke-width="0.7"/>
<line x1="158.60" y1="268.00" x2="158.60" y2="270.60" stroke="#231f20" stroke-width="0.7"/>
<line x1="168.60" y1="268.00" x2="168.60" y2="270.60" stroke="#231f20" stroke-width="0.7"/>
<text transform="translate(149.00,279.00) rotate(-45)" font-size="7.0" fill="#231f20" stroke="#231f20" stroke-width="0.12" text-anchor="end" textLength="8.024659999999999" lengthAdjust="spacingAndGlyphs" >TC</text>
<text transform="translate(159.40,279.00) rotate(-45)" font-size="7.0" fill="#231f20" stroke="#231f20" stroke-width="0.12" text-anchor="end" textLength="12.04" lengthAdjust="spacingAndGlyphs" >TCB</text>
<text transform="translate(169.40,279.00) rotate(-45)" font-size="7.0" fill="#231f20" stroke="#231f20" stroke-width="0.12" text-anchor="end" textLength="18.06" lengthAdjust="spacingAndGlyphs" >TCB-V</text>
<line x1="179.50" y1="268.00" x2="179.50" y2="270.60" stroke="#231f20" stroke-width="0.7"/>
<line x1="190.00" y1="268.00" x2="190.00" y2="270.60" stroke="#231f20" stroke-width="0.7"/>
<line x1="200.20" y1="268.00" x2="200.20" y2="270.60" stroke="#231f20" stroke-width="0.7"/>
<text transform="translate(180.30,279.00) rotate(-45)" font-size="7.0" fill="#231f20" stroke="#231f20" stroke-width="0.12" text-anchor="end" textLength="8.024659999999999" lengthAdjust="spacingAndGlyphs" >TC</text>
<text transform="translate(190.80,279.00) rotate(-45)" font-size="7.0" fill="#231f20" stroke="#231f20" stroke-width="0.12" text-anchor="end" textLength="12.04" lengthAdjust="spacingAndGlyphs" >TCB</text>
<text transform="translate(201.00,279.00) rotate(-45)" font-size="7.0" fill="#231f20" stroke="#231f20" stroke-width="0.12" text-anchor="end" textLength="18.06" lengthAdjust="spacingAndGlyphs" >TCB-V</text>
<line x1="210.70" y1="268.00" x2="210.70" y2="270.60" stroke="#231f20" stroke-width="0.7"/>
<line x1="221.40" y1="268.00" x2="221.40" y2="270.60" stroke="#231f20" stroke-width="0.7"/>
<line x1="231.70" y1="268.00" x2="231.70" y2="270.60" stroke="#231f20" stroke-width="0.7"/>
<text transform="translate(211.50,279.00) rotate(-45)" font-size="7.0" fill="#231f20" stroke="#231f20" stroke-width="0.12" text-anchor="end" textLength="8.024659999999999" lengthAdjust="spacingAndGlyphs" >TC</text>
<text transform="translate(222.20,279.00) rotate(-45)" font-size="7.0" fill="#231f20" stroke="#231f20" stroke-width="0.12" text-anchor="end" textLength="12.04" lengthAdjust="spacingAndGlyphs" >TCB</text>
<text transform="translate(232.50,279.00) rotate(-45)" font-size="7.0" fill="#231f20" stroke="#231f20" stroke-width="0.12" text-anchor="end" textLength="18.06" lengthAdjust="spacingAndGlyphs" >TCB-V</text>
<line x1="242.10" y1="268.00" x2="242.10" y2="270.60" stroke="#231f20" stroke-width="0.7"/>
<line x1="252.60" y1="268.00" x2="252.60" y2="270.60" stroke="#231f20" stroke-width="0.7"/>
<line x1="262.70" y1="268.00" x2="262.70" y2="270.60" stroke="#231f20" stroke-width="0.7"/>
<text transform="translate(242.90,279.00) rotate(-45)" font-size="7.0" fill="#231f20" stroke="#231f20" stroke-width="0.12" text-anchor="end" textLength="8.024659999999999" lengthAdjust="spacingAndGlyphs" >TC</text>
<text transform="translate(253.40,279.00) rotate(-45)" font-size="7.0" fill="#231f20" stroke="#231f20" stroke-width="0.12" text-anchor="end" textLength="12.04" lengthAdjust="spacingAndGlyphs" >TCB</text>
<text transform="translate(263.50,279.00) rotate(-45)" font-size="7.0" fill="#231f20" stroke="#231f20" stroke-width="0.12" text-anchor="end" textLength="18.06" lengthAdjust="spacingAndGlyphs" >TCB-V</text>
<circle cx="148.20" cy="194.03" r="0.9" fill="#2f6ea5"/>
<circle cx="146.70" cy="197.25" r="0.9" fill="#2f6ea5"/>
<circle cx="149.40" cy="198.05" r="0.9" fill="#2f6ea5"/>
<circle cx="147.40" cy="199.66" r="0.9" fill="#2f6ea5"/>
<circle cx="149.70" cy="200.46" r="0.9" fill="#2f6ea5"/>
<circle cx="146.40" cy="202.07" r="0.9" fill="#2f6ea5"/>
<circle cx="148.70" cy="202.88" r="0.9" fill="#2f6ea5"/>
<circle cx="148.20" cy="210.11" r="0.9" fill="#2f6ea5"/>
<circle cx="148.20" cy="213.33" r="0.9" fill="#2f6ea5"/>
<circle cx="148.20" cy="227.00" r="0.9" fill="#2f6ea5"/>
<line x1="144.80" y1="203.68" x2="151.60" y2="203.68" stroke="#1f4e7a" stroke-width="1.0"/>
<circle cx="158.60" cy="231.02" r="0.85" fill="#c21e3f"/>
<circle cx="157.30" cy="261.57" r="0.85" fill="#c21e3f"/>
<circle cx="159.90" cy="262.37" r="0.85" fill="#c21e3f"/>
<circle cx="157.30" cy="264.78" r="0.85" fill="#c21e3f"/>
<circle cx="159.90" cy="264.78" r="0.85" fill="#c21e3f"/>
<line x1="155.20" y1="256.99" x2="162.00" y2="256.99" stroke="#3a3a3a" stroke-width="1.0"/>
<circle cx="168.60" cy="195.64" r="0.85" fill="#3b3442"/>
<circle cx="168.60" cy="209.47" r="0.85" fill="#3b3442"/>
<circle cx="168.60" cy="222.17" r="0.85" fill="#3b3442"/>
<line x1="165.20" y1="209.47" x2="172.00" y2="209.47" stroke="#3a3a3a" stroke-width="1.0"/>
<polyline points="148.20,191.20 148.20,188.90 168.60,188.90 168.60,191.20" fill="none" stroke="#231f20" stroke-width="0.7" stroke-linejoin="miter"/>
<line x1="158.60" y1="188.90" x2="158.60" y2="191.20" stroke="#231f20" stroke-width="0.7"/>
<circle cx="151.05" cy="186.40" r="0.85" fill="#2a2a2a"/>
<circle cx="153.40" cy="186.40" r="0.85" fill="#2a2a2a"/>
<circle cx="155.75" cy="186.40" r="0.85" fill="#2a2a2a"/>
<circle cx="163.90" cy="186.40" r="0.85" fill="#2a2a2a"/>
<rect x="176.30" y="259.16" width="6.60" height="7.24" fill="#b9d0e6"/>
<line x1="179.50" y1="251.92" x2="179.50" y2="258.35" stroke="#2f6ea5" stroke-width="0.8"/>
<line x1="178.30" y1="251.92" x2="180.70" y2="251.92" stroke="#2f6ea5" stroke-width="0.8"/>
<circle cx="179.50" cy="232.62" r="0.85" fill="#2f6ea5"/>
<circle cx="177.90" cy="260.76" r="0.85" fill="#2f6ea5"/>
<circle cx="181.10" cy="260.76" r="0.85" fill="#2f6ea5"/>
<circle cx="177.90" cy="263.18" r="0.85" fill="#2f6ea5"/>
<circle cx="181.10" cy="263.18" r="0.85" fill="#2f6ea5"/>
<circle cx="177.90" cy="265.59" r="0.85" fill="#2f6ea5"/>
<circle cx="181.10" cy="265.59" r="0.85" fill="#2f6ea5"/>
<line x1="176.10" y1="258.35" x2="182.90" y2="258.35" stroke="#1f4e7a" stroke-width="1.0"/>
<circle cx="190.00" cy="234.23" r="0.85" fill="#c21e3f"/>
<circle cx="190.00" cy="237.45" r="0.85" fill="#c21e3f"/>
<circle cx="190.00" cy="254.33" r="0.85" fill="#c21e3f"/>
<line x1="186.60" y1="242.27" x2="193.40" y2="242.27" stroke="#3a3a3a" stroke-width="1.0"/>
<circle cx="199.00" cy="251.12" r="0.8" fill="#3b3442"/>
<circle cx="202.00" cy="251.12" r="0.8" fill="#3b3442"/>
<circle cx="198.70" cy="265.19" r="0.8" fill="#3b3442"/>
<circle cx="201.70" cy="265.19" r="0.8" fill="#3b3442"/>
<line x1="196.80" y1="257.95" x2="203.60" y2="257.95" stroke="#3a3a3a" stroke-width="1.0"/>
<polyline points="179.50,223.90 179.50,221.60 190.00,221.60 190.00,223.90" fill="none" stroke="#231f20" stroke-width="0.7" stroke-linejoin="miter"/>
<circle cx="183.42" cy="218.70" r="0.85" fill="#2a2a2a"/>
<circle cx="185.77" cy="218.70" r="0.85" fill="#2a2a2a"/>
<rect x="207.70" y="264.38" width="6.00" height="3.22" fill="#3f74a6"/>
<circle cx="210.70" cy="256.74" r="0.9" fill="#2f6ea5"/>
<circle cx="210.70" cy="262.37" r="0.9" fill="#2f6ea5"/>
<circle cx="208.90" cy="265.59" r="0.9" fill="#2f6ea5"/>
<circle cx="210.70" cy="265.99" r="0.9" fill="#2f6ea5"/>
<circle cx="212.50" cy="265.59" r="0.9" fill="#2f6ea5"/>
<circle cx="209.70" cy="266.79" r="0.9" fill="#2f6ea5"/>
<circle cx="211.70" cy="266.79" r="0.9" fill="#2f6ea5"/>
<line x1="207.30" y1="265.19" x2="214.10" y2="265.19" stroke="#1f4e7a" stroke-width="1.0"/>
<circle cx="221.40" cy="240.26" r="0.85" fill="#c21e3f"/>
<circle cx="221.40" cy="248.70" r="0.85" fill="#c21e3f"/>
<circle cx="221.40" cy="264.78" r="0.85" fill="#c21e3f"/>
<circle cx="220.20" cy="249.91" r="0.8" fill="#c21e3f"/>
<circle cx="222.60" cy="249.91" r="0.8" fill="#c21e3f"/>
<line x1="218.00" y1="250.71" x2="224.80" y2="250.71" stroke="#7a2a3a" stroke-width="1.0"/>
<circle cx="231.70" cy="250.31" r="0.8" fill="#3b3442"/>
<circle cx="230.20" cy="265.19" r="0.8" fill="#3b3442"/>
<circle cx="233.20" cy="265.19" r="0.8" fill="#3b3442"/>
<line x1="228.30" y1="262.37" x2="235.10" y2="262.37" stroke="#3a3a3a" stroke-width="1.0"/>
<polyline points="210.70,223.80 210.70,221.70 221.40,221.70 221.40,223.80" fill="none" stroke="#231f20" stroke-width="0.7" stroke-linejoin="miter"/>
<circle cx="214.42" cy="218.90" r="0.85" fill="#2a2a2a"/>
<circle cx="216.77" cy="218.90" r="0.85" fill="#2a2a2a"/>
<rect x="238.70" y="262.37" width="6.40" height="2.81" fill="#3f74a6"/>
<circle cx="240.10" cy="262.37" r="0.9" fill="#2f6ea5"/>
<circle cx="242.10" cy="263.18" r="0.9" fill="#2f6ea5"/>
<circle cx="244.10" cy="263.98" r="0.9" fill="#2f6ea5"/>
<circle cx="241.10" cy="264.38" r="0.9" fill="#2f6ea5"/>
<circle cx="243.10" cy="264.78" r="0.9" fill="#2f6ea5"/>
<circle cx="243.60" cy="262.77" r="0.9" fill="#2f6ea5"/>
<line x1="238.70" y1="263.58" x2="245.50" y2="263.58" stroke="#1f4e7a" stroke-width="1.0"/>
<circle cx="252.60" cy="222.17" r="0.85" fill="#c21e3f"/>
<circle cx="252.60" cy="238.25" r="0.85" fill="#c21e3f"/>
<circle cx="252.60" cy="247.10" r="0.85" fill="#c21e3f"/>
<circle cx="252.60" cy="256.34" r="0.85" fill="#c21e3f"/>
<line x1="249.20" y1="241.47" x2="256.00" y2="241.47" stroke="#3a3a3a" stroke-width="1.0"/>
<circle cx="262.70" cy="254.33" r="0.8" fill="#3b3442"/>
<circle cx="261.20" cy="263.98" r="0.8" fill="#3b3442"/>
<circle cx="264.20" cy="263.98" r="0.8" fill="#3b3442"/>
<circle cx="262.70" cy="265.59" r="0.8" fill="#3b3442"/>
<line x1="259.30" y1="261.97" x2="266.10" y2="261.97" stroke="#3a3a3a" stroke-width="1.0"/>
<polyline points="242.10,219.50 242.10,217.20 262.70,217.20 262.70,219.50" fill="none" stroke="#231f20" stroke-width="0.7" stroke-linejoin="miter"/>
<line x1="252.60" y1="217.20" x2="252.60" y2="219.50" stroke="#231f20" stroke-width="0.7"/>
<circle cx="244.85" cy="213.90" r="0.85" fill="#2a2a2a"/>
<circle cx="247.20" cy="213.90" r="0.85" fill="#2a2a2a"/>
<circle cx="249.55" cy="213.90" r="0.85" fill="#2a2a2a"/>
<circle cx="258.00" cy="213.90" r="0.85" fill="#2a2a2a"/>
<line x1="315.80" y1="186.20" x2="315.80" y2="268.00" stroke="#231f20" stroke-width="1.0"/>
<line x1="313.40" y1="267.90" x2="315.80" y2="267.90" stroke="#231f20" stroke-width="1.0"/>
<text x="309.80" y="269.82" font-size="6.4" fill="#231f20" stroke="#231f20" stroke-width="0.12" text-anchor="end" >0</text>
<line x1="313.40" y1="252.16" x2="315.80" y2="252.16" stroke="#231f20" stroke-width="1.0"/>
<text x="309.80" y="254.08" font-size="6.4" fill="#231f20" stroke="#231f20" stroke-width="0.12" text-anchor="end" >20</text>
<line x1="313.40" y1="236.42" x2="315.80" y2="236.42" stroke="#231f20" stroke-width="1.0"/>
<text x="309.80" y="238.34" font-size="6.4" fill="#231f20" stroke="#231f20" stroke-width="0.12" text-anchor="end" >40</text>
<line x1="313.40" y1="220.68" x2="315.80" y2="220.68" stroke="#231f20" stroke-width="1.0"/>
<text x="309.80" y="222.60" font-size="6.4" fill="#231f20" stroke="#231f20" stroke-width="0.12" text-anchor="end" >60</text>
<line x1="313.40" y1="204.94" x2="315.80" y2="204.94" stroke="#231f20" stroke-width="1.0"/>
<text x="309.80" y="206.86" font-size="6.4" fill="#231f20" stroke="#231f20" stroke-width="0.12" text-anchor="end" >80</text>
<line x1="313.40" y1="189.20" x2="315.80" y2="189.20" stroke="#231f20" stroke-width="1.0"/>
<text x="309.80" y="191.12" font-size="6.4" fill="#231f20" stroke="#231f20" stroke-width="0.12" text-anchor="end" >100</text>
<line x1="315.40" y1="268.00" x2="365.80" y2="268.00" stroke="#231f20" stroke-width="1.0"/>
<text transform="translate(295.00,226.20) rotate(-90)" font-size="7.0" fill="#231f20" stroke="#231f20" stroke-width="0.22" text-anchor="middle" textLength="78.5" lengthAdjust="spacingAndGlyphs" >Splenocytes; out of Cd3<tspan font-size="4.6" dy="-2.3">+</tspan><tspan dy="2.3"> [%]</tspan></text>
<rect x="318.00" y="189.80" width="2.10" height="78.20" fill="#ababab"/>
<rect x="340.80" y="189.80" width="3.20" height="78.20" fill="#a4a4a4"/>
<line x1="365.40" y1="189.40" x2="365.40" y2="268.00" stroke="#707070" stroke-width="0.9"/>
<line x1="318.50" y1="189.40" x2="365.90" y2="189.40" stroke="#5a5a5a" stroke-width="0.9"/>
<text x="332.30" y="185.40" font-size="6.8" fill="#231f20" stroke="#231f20" stroke-width="0.12" text-anchor="middle" >Cd4<tspan font-size="4.5" dy="-2.5">+</tspan></text>
<text x="354.00" y="185.40" font-size="6.8" fill="#231f20" stroke="#231f20" stroke-width="0.12" text-anchor="middle" >Cd8<tspan font-size="4.5" dy="-2.5">+</tspan></text>
<line x1="323.40" y1="268.00" x2="323.40" y2="270.60" stroke="#231f20" stroke-width="0.7"/>
<line x1="336.00" y1="268.00" x2="336.00" y2="270.60" stroke="#231f20" stroke-width="0.7"/>
<text transform="translate(324.20,279.00) rotate(-45)" font-size="7.0" fill="#231f20" stroke="#231f20" stroke-width="0.12" text-anchor="end" textLength="12.04" lengthAdjust="spacingAndGlyphs" >TCB</text>
<text transform="translate(336.80,279.00) rotate(-45)" font-size="7.0" fill="#231f20" stroke="#231f20" stroke-width="0.12" text-anchor="end" textLength="18.06" lengthAdjust="spacingAndGlyphs" >TCB-V</text>
<line x1="348.10" y1="268.00" x2="348.10" y2="270.60" stroke="#231f20" stroke-width="0.7"/>
<line x1="360.20" y1="268.00" x2="360.20" y2="270.60" stroke="#231f20" stroke-width="0.7"/>
<text transform="translate(348.90,279.00) rotate(-45)" font-size="7.0" fill="#231f20" stroke="#231f20" stroke-width="0.12" text-anchor="end" textLength="12.04" lengthAdjust="spacingAndGlyphs" >TCB</text>
<text transform="translate(361.00,279.00) rotate(-45)" font-size="7.0" fill="#231f20" stroke="#231f20" stroke-width="0.12" text-anchor="end" textLength="18.06" lengthAdjust="spacingAndGlyphs" >TCB-V</text>
<circle cx="321.00" cy="228.55" r="0.85" fill="#d2143a"/>
<circle cx="324.00" cy="228.16" r="0.85" fill="#d2143a"/>
<circle cx="326.80" cy="228.55" r="0.85" fill="#d2143a"/>
<circle cx="323.40" cy="239.17" r="0.85" fill="#d2143a"/>
<line x1="319.60" y1="230.91" x2="327.20" y2="230.91" stroke="#9a2a40" stroke-width="1.0"/>
<circle cx="334.00" cy="208.87" r="0.85" fill="#3b3442"/>
<circle cx="337.60" cy="208.87" r="0.85" fill="#3b3442"/>
<circle cx="336.00" cy="214.38" r="0.85" fill="#3b3442"/>
<line x1="333.00" y1="211.24" x2="339.00" y2="211.24" stroke="#3a3a3a" stroke-width="1.0"/>
<circle cx="348.10" cy="229.34" r="0.85" fill="#d2143a"/>
<circle cx="348.10" cy="234.06" r="0.85" fill="#d2143a"/>
<circle cx="348.10" cy="241.14" r="0.85" fill="#d2143a"/>
<circle cx="348.10" cy="242.32" r="0.85" fill="#d2143a"/>
<line x1="344.40" y1="237.21" x2="351.80" y2="237.21" stroke="#9a2a40" stroke-width="1.0"/>
<circle cx="358.20" cy="257.28" r="0.85" fill="#3b3442"/>
<circle cx="360.20" cy="257.04" r="0.85" fill="#3b3442"/>
<circle cx="362.20" cy="257.28" r="0.85" fill="#3b3442"/>
<circle cx="360.20" cy="260.82" r="0.85" fill="#3b3442"/>
<line x1="356.20" y1="258.46" x2="364.20" y2="258.46" stroke="#3a3a3a" stroke-width="1.0"/>
<polyline points="323.40,204.40 323.40,202.00 336.00,202.00 336.00,204.40" fill="none" stroke="#231f20" stroke-width="0.7" stroke-linejoin="miter"/>
<circle cx="330.40" cy="198.30" r="0.85" fill="#2a2a2a"/>
<polyline points="348.10,204.40 348.10,202.00 360.20,202.00 360.20,204.40" fill="none" stroke="#231f20" stroke-width="0.7" stroke-linejoin="miter"/>
<circle cx="354.20" cy="198.30" r="0.85" fill="#2a2a2a"/>
<line x1="403.60" y1="186.00" x2="403.60" y2="268.10" stroke="#231f20" stroke-width="1.0"/>
<line x1="401.20" y1="268.10" x2="403.60" y2="268.10" stroke="#231f20" stroke-width="1.0"/>
<text x="397.40" y="270.02" font-size="6.4" fill="#231f20" stroke="#231f20" stroke-width="0.12" text-anchor="end" >0</text>
<line x1="401.20" y1="252.10" x2="403.60" y2="252.10" stroke="#231f20" stroke-width="1.0"/>
<text x="397.40" y="254.02" font-size="6.4" fill="#231f20" stroke="#231f20" stroke-width="0.12" text-anchor="end" >2</text>
<line x1="401.20" y1="236.10" x2="403.60" y2="236.10" stroke="#231f20" stroke-width="1.0"/>
<text x="397.40" y="238.02" font-size="6.4" fill="#231f20" stroke="#231f20" stroke-width="0.12" text-anchor="end" >4</text>
<line x1="401.20" y1="220.10" x2="403.60" y2="220.10" stroke="#231f20" stroke-width="1.0"/>
<text x="397.40" y="222.02" font-size="6.4" fill="#231f20" stroke="#231f20" stroke-width="0.12" text-anchor="end" >6</text>
<line x1="401.20" y1="204.10" x2="403.60" y2="204.10" stroke="#231f20" stroke-width="1.0"/>
<text x="397.40" y="206.02" font-size="6.4" fill="#231f20" stroke="#231f20" stroke-width="0.12" text-anchor="end" >8</text>
<line x1="401.20" y1="188.10" x2="403.60" y2="188.10" stroke="#231f20" stroke-width="1.0"/>
<text x="397.40" y="190.02" font-size="6.4" fill="#231f20" stroke="#231f20" stroke-width="0.12" text-anchor="end" >10</text>
<line x1="403.20" y1="268.10" x2="456.70" y2="268.10" stroke="#231f20" stroke-width="1.0"/>
<text transform="translate(386.20,227.70) rotate(-90)" font-size="7.0" fill="#231f20" stroke="#231f20" stroke-width="0.22" text-anchor="middle" textLength="70.4" lengthAdjust="spacingAndGlyphs" >Splenocytes; Cd4/Cd8 ratio</text>
<line x1="414.40" y1="268.10" x2="414.40" y2="270.80" stroke="#231f20" stroke-width="0.7"/>
<line x1="430.10" y1="268.10" x2="430.10" y2="270.80" stroke="#231f20" stroke-width="0.7"/>
<line x1="446.00" y1="268.10" x2="446.00" y2="270.80" stroke="#231f20" stroke-width="0.7"/>
<text transform="translate(415.20,279.20) rotate(-45)" font-size="7.0" fill="#231f20" stroke="#231f20" stroke-width="0.12" text-anchor="end" textLength="8.024659999999999" lengthAdjust="spacingAndGlyphs" >TC</text>
<text transform="translate(430.90,279.20) rotate(-45)" font-size="7.0" fill="#231f20" stroke="#231f20" stroke-width="0.12" text-anchor="end" textLength="12.04" lengthAdjust="spacingAndGlyphs" >TCB</text>
<text transform="translate(446.80,279.20) rotate(-45)" font-size="7.0" fill="#231f20" stroke="#231f20" stroke-width="0.12" text-anchor="end" textLength="18.06" lengthAdjust="spacingAndGlyphs" >TCB-V</text>
<circle cx="410.40" cy="257.70" r="0.95" fill="#2f6ea5"/>
<circle cx="412.20" cy="258.50" r="0.95" fill="#2f6ea5"/>
<circle cx="413.90" cy="259.30" r="0.95" fill="#2f6ea5"/>
<circle cx="415.60" cy="260.10" r="0.95" fill="#2f6ea5"/>
<circle cx="417.40" cy="259.70" r="0.95" fill="#2f6ea5"/>
<circle cx="411.20" cy="260.90" r="0.95" fill="#2f6ea5"/>
<circle cx="413.20" cy="261.70" r="0.95" fill="#2f6ea5"/>
<circle cx="415.20" cy="260.50" r="0.95" fill="#2f6ea5"/>
<circle cx="414.40" cy="263.70" r="0.95" fill="#2f6ea5"/>
<circle cx="413.90" cy="266.10" r="0.95" fill="#2f6ea5"/>
<circle cx="415.00" cy="266.90" r="0.95" fill="#2f6ea5"/>
<circle cx="426.40" cy="255.70" r="0.95" fill="#d2143a"/>
<circle cx="430.10" cy="256.50" r="0.95" fill="#d2143a"/>
<circle cx="433.80" cy="257.30" r="0.95" fill="#d2143a"/>
<circle cx="430.10" cy="258.50" r="0.95" fill="#d2143a"/>
<circle cx="430.10" cy="262.10" r="0.95" fill="#d2143a"/>
<circle cx="446.00" cy="201.70" r="0.95" fill="#4a2a6a"/>
<circle cx="446.00" cy="221.70" r="0.95" fill="#4a2a6a"/>
<circle cx="446.00" cy="224.90" r="0.95" fill="#4a2a6a"/>
<circle cx="446.00" cy="230.02" r="0.95" fill="#4a2a6a"/>
<polyline points="414.40,193.50 414.40,191.40 446.00,191.40 446.00,193.50" fill="none" stroke="#231f20" stroke-width="0.7" stroke-linejoin="miter"/>
<circle cx="429.22" cy="189.00" r="0.85" fill="#2a2a2a"/>
<circle cx="431.57" cy="189.00" r="0.85" fill="#2a2a2a"/>
<polyline points="414.40,199.20 414.40,196.70 446.00,196.70 446.00,199.20" fill="none" stroke="#231f20" stroke-width="0.7" stroke-linejoin="miter"/>
<line x1="430.10" y1="196.70" x2="430.10" y2="199.20" stroke="#231f20" stroke-width="0.7"/>
<circle cx="422.30" cy="194.50" r="0.85" fill="#2a2a2a"/>
<circle cx="437.22" cy="194.50" r="0.85" fill="#2a2a2a"/>
<circle cx="439.57" cy="194.50" r="0.85" fill="#2a2a2a"/>
</svg>
</body></html>
